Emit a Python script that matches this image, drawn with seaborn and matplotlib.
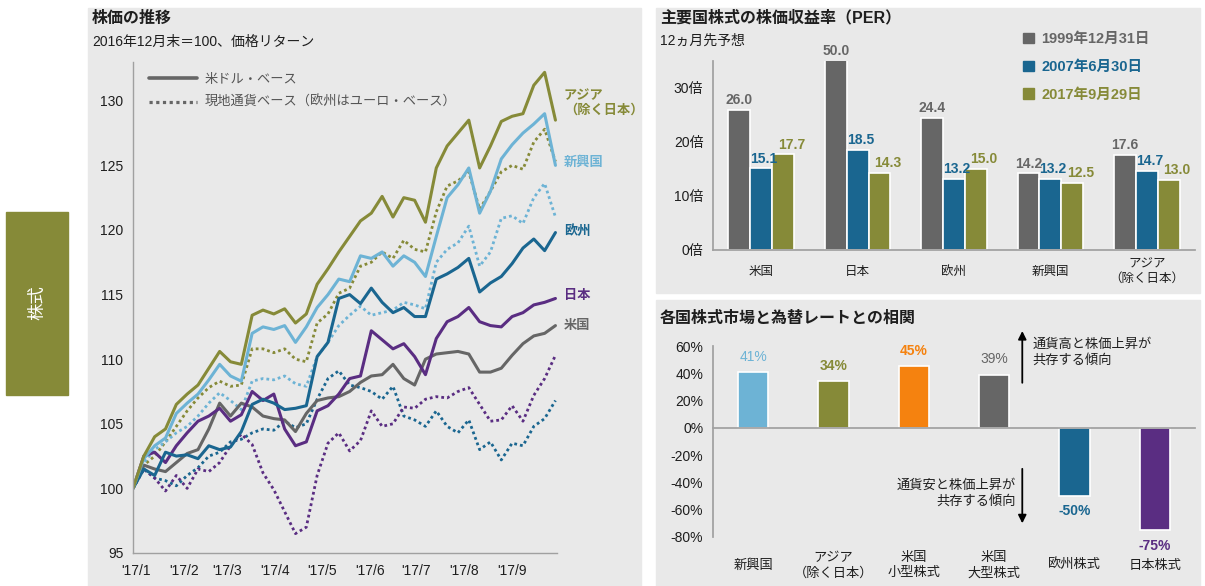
import numpy as np
import pandas as pd
import matplotlib
matplotlib.use('Agg')
import matplotlib.pyplot as plt
from matplotlib.patches import Rectangle, Patch
from matplotlib.lines import Line2D
import seaborn as sns

sns.set_theme(style='white')
plt.rcParams['font.family'] = ['Liberation Sans', 'Noto Sans CJK JP', 'DejaVu Sans']

# ---------------- data ----------------
start_date = '2016-12-30'
n_weeks = 40
asia_usd = [100, 102.5, 104, 104.6, 106.5, 107.3, 108, 109.3, 110.6, 109.8,
            109.6, 113.4, 113.8, 113.5, 113.9, 112.8, 113.5, 115.8, 117, 118.3,
            119.5, 120.7, 121.3, 122.6, 121, 122.5, 122.3, 120.6, 124.8, 126.5,
            127.5, 128.5, 124.8, 126.5, 128.4, 128.8, 129, 131.2, 132.2, 128.5]
asia_loc = [100, 101.8, 102.5, 103.6, 104.8, 106, 107, 107.8, 108.3, 107.9,
            108, 110.8, 110.8, 110.5, 110.8, 110, 109.8, 112.8, 113.5, 115.1,
            115.5, 117.2, 117.5, 118.3, 117.8, 119.2, 118.5, 118.3, 121.4, 123.4,
            123.8, 124.5, 121.6, 123, 124.5, 125, 124.7, 126.8, 127.8, 125.3]
em_usd = [100, 102.3, 103.3, 103.9, 105.8, 106.6, 107.3, 108.4, 109.6, 108.7,
          108.3, 112, 112.5, 112.3, 112.6, 111.3, 112.5, 114, 115, 116.2,
          116, 118, 117.8, 118.3, 117.2, 118, 117.5, 116.4, 119.5, 122.5,
          123.5, 124.8, 121.3, 123, 125.5, 126.6, 127.5, 128.2, 129, 125]
em_loc = [100, 102, 103, 103.6, 104.3, 104.8, 105.6, 106.6, 107.4, 106.8,
          106.1, 108.3, 108.5, 108.4, 108.7, 108.1, 107.9, 110.2, 111.3, 112.6,
          113.4, 114.1, 113.4, 113.6, 113.8, 114.4, 114.2, 113.9, 117.5, 118.5,
          119, 120.3, 117.2, 118.3, 120.9, 121.1, 120.5, 122.5, 123.6, 121]
eu_usd = [100, 101.5, 101, 102.8, 102.5, 102.6, 102.3, 103.3, 103, 103.2,
          104.4, 106.5, 106.9, 106.6, 106.1, 106.2, 106.4, 110.2, 111.3, 114.7,
          115, 114.3, 115.5, 114.4, 113.6, 114, 113.3, 113.3, 116.2, 116.6,
          117.1, 117.8, 115.2, 115.9, 116.4, 117.4, 118.6, 119.3, 118.4, 119.8]
eu_loc = [100, 101.5, 100.8, 100.6, 100.2, 101, 101.6, 102.5, 102.8, 103.6,
          103.8, 104.3, 104.6, 104.5, 105.2, 104.7, 105, 106.9, 108.5, 109.1,
          108, 107.8, 107.5, 106.9, 107.9, 105.6, 105.3, 104.8, 106, 104.8,
          104.3, 105.3, 103, 103.6, 102.2, 103.5, 103.3, 104.8, 105.4, 106.8]
jp_usd = [100, 102.5, 102.8, 102, 103.3, 104.3, 105.2, 105.6, 106.2, 105.2,
          105.7, 107.5, 106.8, 107.3, 104.6, 103.3, 103.6, 106, 106.4, 107.3,
          108.5, 108.7, 112.2, 111.5, 110.8, 111.2, 110.2, 108.8, 111.6, 112.9,
          113.3, 114, 112.9, 112.6, 112.5, 113.3, 113.6, 114.2, 114.4, 114.7]
jp_loc = [100, 101.5, 100.8, 99.8, 101, 100, 101.5, 101.3, 102, 103.3,
          104.2, 103.4, 101.2, 99.9, 98.2, 96.5, 97, 101, 103.5, 104.3,
          102.9, 103.7, 106, 104.8, 105, 106.3, 106.2, 106.9, 107.1, 107,
          107.5, 107.8, 106.5, 105.2, 105.3, 106.4, 105.2, 107.2, 108.5, 110.3]
us_usd = [100, 101.8, 101.5, 101.3, 102, 102.7, 103, 104.6, 106.6, 105.6,
          106.6, 106.3, 105.6, 105.4, 105.3, 104.4, 105.8, 106.8, 107, 107.1,
          107.5, 108.2, 108.7, 108.8, 109.6, 108.5, 108, 110, 110.4, 110.5,
          110.6, 110.4, 109, 109, 109.3, 110.3, 111.2, 111.8, 112, 112.6]
month_ticks = ['2017-01-01', '2017-02-01', '2017-03-01', '2017-04-01', '2017-05-01',
               '2017-06-01', '2017-07-01', '2017-08-01', '2017-09-01']
month_labels = ["'17/1", "'17/2", "'17/3", "'17/4", "'17/5", "'17/6", "'17/7", "'17/8", "'17/9"]
line_y_ticks = [95, 100, 105, 110, 115, 120, 125, 130]

per_regions = ['米国', '日本', '欧州', '新興国', 'アジア\n（除く日本）']
per_dates = ['1999年12月31日', '2007年6月30日', '2017年9月29日']
per_1999 = [26.0, 50.0, 24.4, 14.2, 17.6]
per_2007 = [15.1, 18.5, 13.2, 13.2, 14.7]
per_2017 = [17.7, 14.3, 15.0, 12.5, 13.0]
per_ticks = [0, 10, 20, 30]

corr_cats = ['新興国', 'アジア\n（除く日本）', '米国\n小型株式', '米国\n大型株式', '欧州株式', '日本株式']
corr_vals = [41, 34, 45, 39, -50, -75]
corr_ticks = [60, 40, 20, 0, -20, -40, -60, -80]

# ---------------- style ----------------
OLIVE = '#868A38'
LBLUE = '#6DB3D5'
DBLUE = '#1A6690'
PURPLE = '#5A2D82'
GRAY = '#666666'
ORANGE = '#F5820F'
BG = '#E9E9E9'
SPINE = '#A0A0A0'
TXT = '#1E1E1E'

W, H = 1205, 586
fig = plt.figure(figsize=(W / 100, H / 100), dpi=100)
fig.patch.set_facecolor('white')


def ax_px(x0, y0, x1, y1):
    a = fig.add_axes([x0 / W, 1 - y1 / H, (x1 - x0) / W, (y1 - y0) / H])
    a.set_facecolor('none')
    a.set_zorder(2)
    return a


def panel(x0, y0, x1, y1, color=BG):
    fig.patches.append(Rectangle((x0 / W, 1 - y1 / H), (x1 - x0) / W, (y1 - y0) / H,
                                 transform=fig.transFigure, color=color, zorder=-10))


def ftext(x, y, s, **kw):
    fig.text(x / W, 1 - y / H, s, **kw)


panel(88, 8, 641, 586)
panel(656, 8, 1200, 293)
panel(656, 300, 1200, 586)
panel(6, 212, 68, 395, OLIVE)
ftext(37, 303, '株式', rotation=90, color='white', fontsize=12.5, ha='center', va='center')

ftext(92, 18, '株価の推移', fontsize=11.5, weight='bold', va='center', color=TXT)
ftext(92, 42, '2016年12月末＝100、価格リターン', fontsize=10, va='center', color=TXT)
ftext(660, 18, '主要国株式の株価収益率（PER）', fontsize=11.5, weight='bold', va='center', color=TXT)
ftext(660, 41, '12ヵ月先予想', fontsize=10, va='center', color=TXT)
ftext(660, 318, '各国株式市場と為替レートとの相関', fontsize=11.5, weight='bold', va='center', color=TXT)

# ---------------- left: line chart ----------------
dates = pd.date_range(start_date, periods=n_weeks, freq='7D')
axL = ax_px(133, 62, 557, 553)
dotted = [(asia_loc, OLIVE), (em_loc, LBLUE), (eu_loc, DBLUE), (jp_loc, PURPLE)]
solid = [(us_usd, GRAY), (jp_usd, PURPLE), (eu_usd, DBLUE), (em_usd, LBLUE), (asia_usd, OLIVE)]
for vals, c in dotted:
    sns.lineplot(x=dates, y=vals, ax=axL, color=c, linestyle=(0, (1, 1.1)), linewidth=2.0, legend=False)
for vals, c in solid:
    sns.lineplot(x=dates, y=vals, ax=axL, color=c, linestyle='-', linewidth=2.2, legend=False)

axL.set_xlim(pd.Timestamp('2016-12-30'), pd.Timestamp('2017-09-30'))
axL.set_ylim(95, 133)
axL.set_xticks(pd.to_datetime(month_ticks))
axL.set_xticklabels(month_labels)
axL.set_yticks(line_y_ticks)
axL.set_xlabel('')
axL.set_ylabel('')
for s in ['top', 'right']:
    axL.spines[s].set_visible(False)
for s in ['left', 'bottom']:
    axL.spines[s].set_color(SPINE)
    axL.spines[s].set_linewidth(1)
axL.tick_params(axis='both', length=4, width=1, color=SPINE, labelsize=10, labelcolor=TXT, pad=3)
axL.tick_params(axis='x', pad=4)

handles = [Line2D([], [], color=GRAY, lw=2.6),
           Line2D([], [], color=GRAY, lw=2.3, linestyle=(0, (1, 1.1)))]
axL.legend(handles, ['米ドル・ベース', '現地通貨ベース（欧州はユーロ・ベース）'],
           loc='upper left', bbox_to_anchor=(0.01, 1.0), frameon=False, fontsize=9.5,
           labelcolor='#555555', handlelength=3.6, handletextpad=0.6, labelspacing=0.75)

end_labels = [('アジア\n（除く日本）', asia_usd, OLIVE, 12),
              ('新興国', em_usd, LBLUE, 2),
              ('欧州', eu_usd, DBLUE, 1),
              ('日本', jp_usd, PURPLE, 2),
              ('米国', us_usd, GRAY, 0)]
for lab, vals, c, dy in end_labels:
    axL.annotate(lab, xy=(dates[-1], vals[-1]), xytext=(6, dy), textcoords='offset points',
                 ha='left', va='center', color=c, fontsize=9.5, weight='bold',
                 annotation_clip=False, linespacing=1.25)

# ---------------- right top: PER ----------------
axP = ax_px(713, 61, 1195, 250)
per_df = pd.DataFrame({
    'region': per_regions * 3,
    'date': sum([[d] * len(per_regions) for d in per_dates], []),
    'per': per_1999 + per_2007 + per_2017,
})
per_colors = [GRAY, DBLUE, OLIVE]
sns.barplot(data=per_df, x='region', y='per', hue='date', palette=per_colors, saturation=1,
            width=0.68, edgecolor='white', linewidth=1.2, ax=axP, legend=False,
            order=per_regions, hue_order=per_dates)
axP.set_ylim(0, 35)
axP.set_xlim(-0.5, len(per_regions) - 0.5)
ytop = axP.get_ylim()[1]
label_dx = [0, 2, 6]
for cont, c, vals, dx in zip(axP.containers, per_colors, [per_1999, per_2007, per_2017], label_dx):
    for bar, v in zip(cont, vals):
        axP.annotate(f'{v:.1f}', xy=(bar.get_x() + bar.get_width() / 2, min(v, ytop)),
                     xytext=(dx, 2), textcoords='offset points', ha='center', va='bottom',
                     color=c, fontsize=10, weight='bold', annotation_clip=False)
axP.set_yticks(per_ticks)
axP.set_yticklabels([f'{t}倍' for t in per_ticks])
axP.set_xticks(np.arange(len(per_regions)))
axP.set_xticklabels([])
axP.set_xticks(np.arange(len(per_regions) + 1) - 0.5, minor=True)
axP.tick_params(axis='x', which='major', length=0)
axP.tick_params(axis='x', which='minor', length=5, width=1, color=SPINE, direction='out')
axP.tick_params(axis='y', length=4, width=1, color=SPINE, labelsize=10, labelcolor=TXT, pad=3)
axP.set_xlabel('')
axP.set_ylabel('')
for s in ['top', 'right']:
    axP.spines[s].set_visible(False)
for s in ['left', 'bottom']:
    axP.spines[s].set_color(SPINE)
for i, lab in enumerate(per_regions):
    axP.text(i, -0.115, lab, transform=axP.get_xaxis_transform(), ha='center', va='center',
             fontsize=9, color=TXT, linespacing=1.3)
axP.legend([Patch(color=c) for c in per_colors], per_dates, loc='upper left',
           bbox_to_anchor=(1010 / W, 1 - 19 / H), bbox_transform=fig.transFigure,
           frameon=False, prop={'size': 10.5, 'weight': 'bold'}, labelcolor=per_colors,
           handlelength=0.75, handleheight=0.75, handletextpad=0.5, labelspacing=0.95)

# ---------------- right bottom: correlation ----------------
axC = ax_px(713, 346, 1195, 537)
corr_colors = [LBLUE, OLIVE, ORANGE, GRAY, DBLUE, PURPLE]
sns.barplot(x=corr_cats, y=corr_vals, hue=corr_cats, palette=corr_colors, legend=False,
            saturation=1, width=0.38, edgecolor='white', linewidth=1.2, ax=axC, order=corr_cats)
axC.set_ylim(-80, 60)
axC.set_xlim(-0.5, len(corr_cats) - 0.5)
weights = ['normal', 'bold', 'bold', 'normal', 'bold', 'bold']
for bar, v, c, wt in zip(axC.patches, corr_vals, corr_colors, weights):
    off = 6 if v >= 0 else -6
    axC.annotate(f'{v}%', xy=(bar.get_x() + bar.get_width() / 2, v), xytext=(0, off),
                 textcoords='offset points', ha='center', va='bottom' if v >= 0 else 'top',
                 color=c, fontsize=10, weight=wt, annotation_clip=False)
axC.set_yticks(corr_ticks)
axC.set_yticklabels([f'{t}%' for t in corr_ticks])
axC.spines['bottom'].set_position(('data', 0))
axC.set_xticks(np.arange(len(corr_cats)))
axC.set_xticklabels([])
axC.set_xticks(np.arange(len(corr_cats) + 1) - 0.5, minor=True)
axC.tick_params(axis='x', which='major', length=0)
axC.tick_params(axis='x', which='minor', length=4, width=1, color=SPINE, direction='out')
axC.tick_params(axis='y', length=4, width=1, color=SPINE, labelsize=10, labelcolor=TXT, pad=3)
axC.set_xlabel('')
axC.set_ylabel('')
for s in ['top', 'right']:
    axC.spines[s].set_visible(False)
for s in ['left', 'bottom']:
    axC.spines[s].set_color(SPINE)
for i, lab in enumerate(corr_cats):
    axC.text(i, -0.15, lab, transform=axC.get_xaxis_transform(), ha='center', va='center',
             fontsize=9.5, color=TXT, linespacing=1.3)
axC.annotate('', xy=(3.35, 73), xytext=(3.35, 31),
             arrowprops=dict(arrowstyle='-|>', color='black', lw=1.3, mutation_scale=12),
             annotation_clip=False)
axC.annotate('', xy=(3.35, -72), xytext=(3.35, -28),
             arrowprops=dict(arrowstyle='-|>', color='black', lw=1.3, mutation_scale=12),
             annotation_clip=False)
axC.text(3.48, 55, '通貨高と株価上昇が\n共存する傾向', ha='left', va='center',
         fontsize=9.5, color=TXT, linespacing=1.35)
axC.text(3.27, -48, '通貨安と株価上昇が\n共存する傾向', ha='right', va='center',
         fontsize=9.5, color=TXT, linespacing=1.35)

fig.savefig('out.png', dpi=100, facecolor='white')
